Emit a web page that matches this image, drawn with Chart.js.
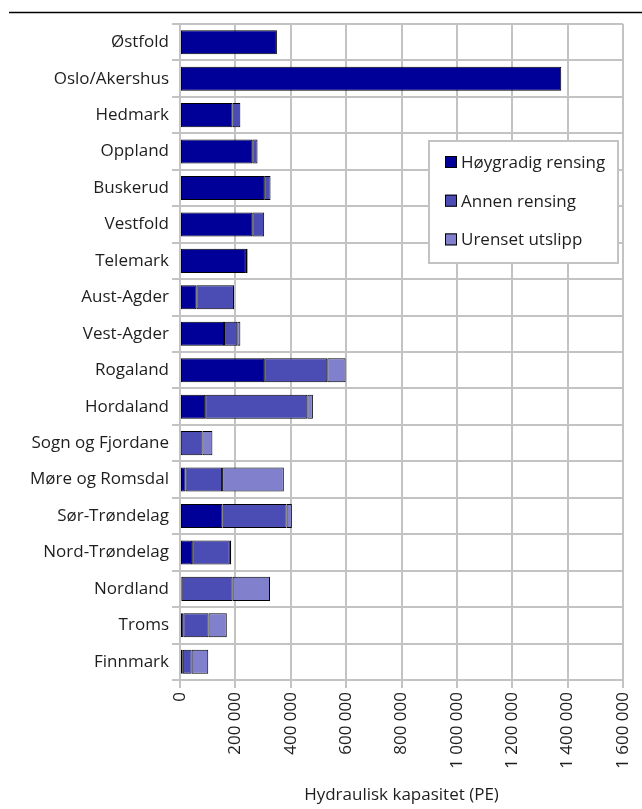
<!DOCTYPE html>
<html>
<head>
<meta charset="utf-8">
<script src="https://cdn.jsdelivr.net/npm/chart.js@4.4.0/dist/chart.umd.min.js"></script>
<style>
  html, body { margin: 0; padding: 0; background: #fff; }
  #wrap { position: relative; width: 642px; height: 809px; }
</style>
</head>
<body>
<div id="wrap"><canvas id="chart" width="642" height="809"></canvas></div>
<script>
// fylker
const fylker = [
  'Østfold', 'Oslo/Akershus', 'Hedmark', 'Oppland', 'Buskerud', 'Vestfold',
  'Telemark', 'Aust-Agder', 'Vest-Agder', 'Rogaland', 'Hordaland',
  'Sogn og Fjordane', 'Møre og Romsdal', 'Sør-Trøndelag', 'Nord-Trøndelag',
  'Nordland', 'Troms', 'Finnmark'
];

// hydraulisk kapasitet (PE) per rensegrad
const hoygradig = [350000, 1377000, 190000, 261000, 304000, 261000, 238000, 59000, 159000,
  304000, 91000, 3000, 20000, 154000, 44000, 6000, 12000, 10000];
const annen = [0, 0, 28000, 19000, 23000, 43000, 6000, 136000, 48000,
  228000, 369000, 78000, 132000, 231000, 136000, 184000, 91000, 32000];
const urenset = [0, 0, 0, 0, 0, 0, 1000, 0, 11000,
  66000, 20000, 36000, 223000, 19000, 5000, 135000, 66000, 60000];

const seriesNames = ['Høygradig rensing', 'Annen rensing', 'Urenset utslipp'];
const seriesColors = ['#000099', '#4b4db5', '#8080cc'];

const FONT = '"Open Sans", "Noto Sans", sans-serif';
const FSIZE = 17;
const TEXT = '#1e1e1e';
const GRID = '#c3c3c3';

const fmt = v => String(v).replace(/\B(?=(\d{3})+(?!\d))/g, ' ');

// legend inne i plottet + strek øverst
const decorPlugin = {
  id: 'decor',
  afterDraw(chart) {
    const ctx = chart.ctx;
    ctx.save();
    // linje øverst
    ctx.strokeStyle = '#000';
    ctx.lineWidth = 1.5;
    ctx.beginPath();
    ctx.moveTo(9, 12.5);
    ctx.lineTo(642, 12.5);
    ctx.stroke();

    // legendboks
    const bx = 429, by = 141, bw = 189, bh = 122;
    ctx.fillStyle = '#fff';
    ctx.fillRect(bx, by, bw, bh);
    ctx.strokeStyle = GRID;
    ctx.lineWidth = 2;
    ctx.strokeRect(bx, by, bw, bh);

    ctx.font = FSIZE + 'px ' + FONT;
    ctx.textBaseline = 'middle';
    ctx.textAlign = 'left';
    chart.data.datasets.forEach((ds, i) => {
      const cy = 162 + i * 38.7;
      ctx.fillStyle = ds.backgroundColor;
      ctx.fillRect(445, cy - 6, 12, 12);
      ctx.strokeStyle = '#000';
      ctx.lineWidth = 1;
      ctx.strokeRect(445.5, cy - 5.5, 11, 11);
      ctx.fillStyle = TEXT;
      ctx.fillText(ds.label, 461, cy + 1);
    });
    ctx.restore();
  }
};

const datasets = [hoygradig, annen, urenset].map((values, i) => ({
  label: seriesNames[i],
  data: values,
  backgroundColor: seriesColors[i],
  borderColor: '#000',
  borderWidth: 1,
  borderSkipped: false,
  categoryPercentage: 0.66,
  barPercentage: 1
}));

new Chart(document.getElementById('chart'), {
  type: 'bar',
  data: { labels: fylker, datasets },
  options: {
    indexAxis: 'y',
    responsive: false,
    animation: false,
    layout: { padding: { top: 24, right: 19, bottom: 0, left: 0 } },
    plugins: {
      legend: { display: false },
      tooltip: { enabled: false }
    },
    scales: {
      x: {
        stacked: true,
        min: 0,
        max: 1600000,
        grid: { color: GRID, lineWidth: 2, tickLength: 8, drawTicks: true },
        border: { color: GRID, width: 2 },
        ticks: {
          stepSize: 200000,
          minRotation: 90,
          maxRotation: 90,
          padding: 4,
          color: TEXT,
          font: { family: FONT, size: FSIZE },
          callback: v => fmt(v)
        },
        title: {
          display: true,
          text: 'Hydraulisk kapasitet (PE)',
          color: TEXT,
          font: { family: FONT, size: FSIZE },
          padding: { top: 4, bottom: 4 }
        },
        afterFit: s => { s.height = 129; s.paddingLeft = 0; s.paddingRight = 0; }
      },
      y: {
        stacked: true,
        grid: { color: GRID, lineWidth: 2, tickLength: 8, offset: true },
        border: { color: GRID, width: 2 },
        ticks: {
          padding: 3,
          color: TEXT,
          font: { family: FONT, size: FSIZE }
        },
        afterFit: s => { s.width = 180; s.paddingTop = 0; s.paddingBottom = 0; }
      }
    }
  },
  plugins: [decorPlugin]
});
</script>
</body>
</html>
